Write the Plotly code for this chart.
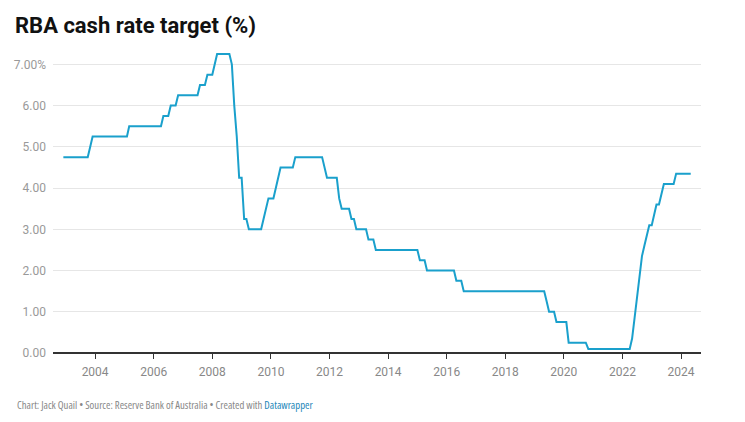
"""RBA cash rate target, Dec 2002 - May 2024"""
import plotly.graph_objects as go

# corner points of the monthly series (month, cash rate target in %)
dates = [
    "2002-12-01", "2003-10-01", "2003-11-01", "2003-12-01", "2005-02-01", "2005-03-01",
    "2006-04-01", "2006-05-01", "2006-07-01", "2006-08-01", "2006-10-01", "2006-11-01",
    "2007-07-01", "2007-08-01", "2007-10-01", "2007-11-01", "2008-01-01", "2008-02-01",
    "2008-03-01", "2008-08-01", "2008-09-01", "2008-10-01", "2008-11-01", "2008-12-01",
    "2009-01-01", "2009-02-01", "2009-03-01", "2009-04-01", "2009-09-01", "2009-10-01",
    "2009-11-01", "2009-12-01", "2010-02-01", "2010-03-01", "2010-04-01", "2010-05-01",
    "2010-10-01", "2010-11-01", "2011-10-01", "2011-11-01", "2011-12-01", "2012-04-01",
    "2012-05-01", "2012-06-01", "2012-09-01", "2012-10-01", "2012-11-01", "2012-12-01",
    "2013-04-01", "2013-05-01", "2013-07-01", "2013-08-01", "2015-01-01", "2015-02-01",
    "2015-04-01", "2015-05-01", "2016-04-01", "2016-05-01", "2016-07-01", "2016-08-01",
    "2019-05-01", "2019-06-01", "2019-07-01", "2019-09-01", "2019-10-01", "2020-02-01",
    "2020-03-01", "2020-10-01", "2020-11-01", "2022-04-01", "2022-05-01", "2022-06-01",
    "2022-07-01", "2022-08-01", "2022-09-01", "2022-10-01", "2022-11-01", "2022-12-01",
    "2023-01-01", "2023-02-01", "2023-03-01", "2023-04-01", "2023-05-01", "2023-06-01",
    "2023-10-01", "2023-11-01", "2024-05-01",
]
rates = [
    4.75, 4.75, 5.00, 5.25, 5.25, 5.50,
    5.50, 5.75, 5.75, 6.00, 6.00, 6.25,
    6.25, 6.50, 6.50, 6.75, 6.75, 7.00,
    7.25, 7.25, 7.00, 6.00, 5.25, 4.25,
    4.25, 3.25, 3.25, 3.00, 3.00, 3.25,
    3.50, 3.75, 3.75, 4.00, 4.25, 4.50,
    4.50, 4.75, 4.75, 4.50, 4.25, 4.25,
    3.75, 3.50, 3.50, 3.25, 3.25, 3.00,
    3.00, 2.75, 2.75, 2.50, 2.50, 2.25,
    2.25, 2.00, 2.00, 1.75, 1.75, 1.50,
    1.50, 1.25, 1.00, 1.00, 0.75, 0.75,
    0.25, 0.25, 0.10, 0.10, 0.35, 0.85,
    1.35, 1.85, 2.35, 2.60, 2.85, 3.10,
    3.10, 3.35, 3.60, 3.60, 3.85, 4.10,
    4.10, 4.35, 4.35,
]

y_ticks = [0, 1, 2, 3, 4, 5, 6, 7]
y_labels = ["0.00", "1.00", "2.00", "3.00", "4.00", "5.00", "6.00", "7.00%"]
x_ticks = [f"{y}-01-01" for y in range(2004, 2025, 2)]
x_labels = [str(y) for y in range(2004, 2025, 2)]

title = "RBA cash rate target (%)"
footer = ("<span style='font-stretch:75%'>Chart: Jack Quail • Source: Reserve Bank of "
          "Australia • Created with <span style='color:#1d86b8'>Datawrapper</span></span>")

W, H = 745, 422
# the page body has an 8px margin, so everything is laid out 8px up and left
OFF = 8

fig = go.Figure(go.Scatter(
    x=dates, y=rates, mode="lines",
    line=dict(color="#1aa0cc", width=2),
    hoverinfo="x+y",
))

fig.update_layout(
    width=W, height=H,
    margin=dict(l=53 - OFF, r=W - 701 + OFF, t=52 - OFF, b=H - 353 + OFF),
    paper_bgcolor="white", plot_bgcolor="white",
    font=dict(family="Roboto", size=12, color="#888888"),
    showlegend=False,
    title=dict(text=f"<b>{title}</b>",
               x=(15 - OFF) / W, xref="container", xanchor="left",
               y=1 - (25 - OFF) / H, yref="container", yanchor="middle",
               font=dict(family="Roboto", size=22, color="#111111")),
)

fig.update_xaxes(
    type="date", range=["2002-07-25", "2024-09-06"],
    tickvals=x_ticks, ticktext=x_labels,
    ticks="outside", ticklen=5, tickcolor="#333333", tickwidth=1,
    showgrid=False, zeroline=False, showline=False,
    ticklabelstandoff=3, automargin=False,
    tickfont=dict(family="Roboto", size=12, color="#888888"),
)
fig.update_yaxes(
    range=[0, 7.3], tickvals=y_ticks, ticktext=y_labels,
    showgrid=True, gridcolor="#e6e6e6", gridwidth=1,
    zeroline=True, zerolinecolor="#333333", zerolinewidth=1.5,
    ticks="", ticklabelstandoff=6, automargin=False,
    tickfont=dict(family="Roboto", size=12, color="#999999"),
)

# footer, positioned in paper units relative to the plot area
plot_w = W - fig.layout.margin.l - fig.layout.margin.r
plot_h = H - fig.layout.margin.t - fig.layout.margin.b
fig.add_annotation(
    text=footer, xref="paper", yref="paper",
    x=(15 - 53) / plot_w, y=-(405 - 353) / plot_h,
    xanchor="left", yanchor="middle", showarrow=False,
    font=dict(family="Open Sans", size=10.7, color="#888888"),
)

fig.write_html("out.html")
